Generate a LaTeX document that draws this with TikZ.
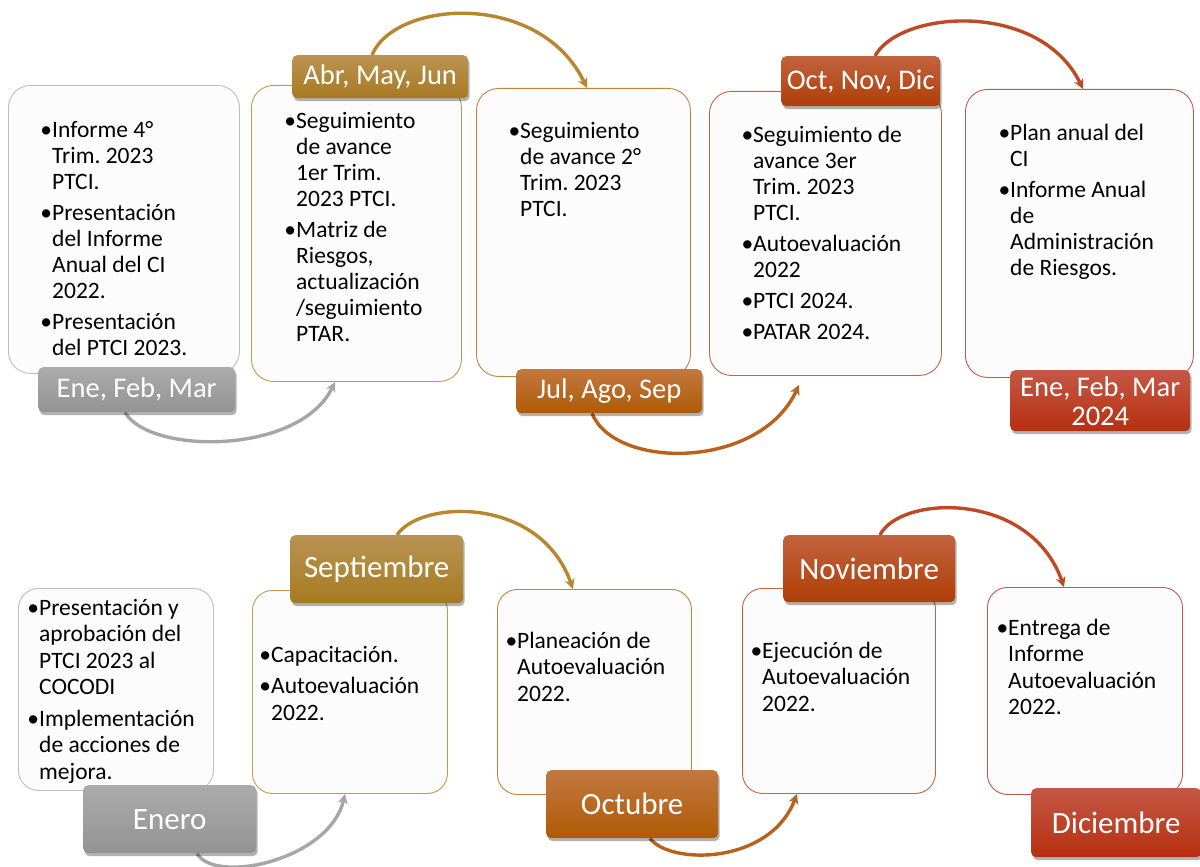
\documentclass[tikz,border=0pt]{standalone}
\usepackage{fontspec}
\setmainfont{Carlito}
\frenchspacing
\usetikzlibrary{arrows.meta,shadows,calc}
\pgfdeclarelayer{bg}\pgfdeclarelayer{mid}\pgfsetlayers{bg,mid,main}
\definecolor{grayT}{HTML}{ABABAB}\definecolor{grayB}{HTML}{939393}\definecolor{grayE}{HTML}{BDBDBD}\definecolor{grayA}{HTML}{A6A6A6}
\definecolor{goldT}{HTML}{BA9353}\definecolor{goldB}{HTML}{A67A20}\definecolor{goldE}{HTML}{C4994C}\definecolor{goldA}{HTML}{B8862E}
\definecolor{oraT}{HTML}{C2783F}\definecolor{oraB}{HTML}{AF5A06}\definecolor{oraE}{HTML}{C8803F}\definecolor{oraA}{HTML}{B8621E}
\definecolor{rusT}{HTML}{C2633F}\definecolor{rusB}{HTML}{AF3E06}\definecolor{rusE}{HTML}{C2653F}\definecolor{rusA}{HTML}{BC4A24}
\definecolor{redT}{HTML}{C45845}\definecolor{redB}{HTML}{B72F10}\definecolor{redE}{HTML}{C4574A}
\newcommand{\itm}{\llap{\textbullet}}
\tikzset{
  card/.style={draw=#1, line width=0.9pt, fill=white!99!black, rounded corners=22pt, anchor=north west, inner sep=0pt},
  txt/.style={anchor=north west, inner sep=0pt, align=left, yshift=18.3pt, text=black},
  toptxt/.style={txt, font=\fontsize{23.5}{26}\selectfont},
  bottxt/.style={txt, font=\fontsize{23.5}{26.5}\selectfont},
  lab/.style={rounded corners=5pt, text=white, anchor=north west, inner sep=0pt, align=center,
     drop shadow={shadow xshift=1.5pt, shadow yshift=-3pt, opacity=0.3, fill=black}},
  labgray/.style={lab, top color=grayT, bottom color=grayB},
  labgold/.style={lab, top color=goldT, bottom color=goldB},
  labora/.style={lab, top color=oraT, bottom color=oraB},
  labrus/.style={lab, top color=rusT, bottom color=rusB},
  labred/.style={lab, top color=redT, bottom color=redB},
  toplab/.style={font=\fontsize{28.5}{29}\selectfont},
  botlab/.style={font=\fontsize{31}{34}\selectfont},
  arc/.style={line width=3.4pt, draw=#1, -{Stealth[length=10pt,width=10pt]}}
}
\begin{document}
\begin{tikzpicture}[x=1pt,y=-1pt]
\useasboundingbox (0,0) rectangle (1200,867);
\begin{pgfonlayer}{bg}
% top row boxes
\node[card=grayE, minimum width=231pt, minimum height=288pt] (b1) at (8,85) {};
\node[card=goldE, minimum width=210pt, minimum height=296pt] (b2) at (251,85) {};
\node[card=oraE, minimum width=214pt, minimum height=288pt] (b3) at (476,88) {};
\node[card=rusE, minimum width=232pt, minimum height=284pt] (b4) at (709,91) {};
\node[card=redE, minimum width=228pt, minimum height=288pt] (b5) at (965,89) {};
% bottom row boxes
\node[card=grayE, rounded corners=20pt, minimum width=195pt, minimum height=202pt] (c1) at (18,588) {};
\node[card=goldE, rounded corners=20pt, minimum width=195pt, minimum height=203pt] (c2) at (252,590) {};
\node[card=oraE, rounded corners=20pt, minimum width=194pt, minimum height=205pt] (c3) at (497,589) {};
\node[card=rusE, rounded corners=20pt, minimum width=193pt, minimum height=205pt] (c4) at (742,588) {};
\node[card=redE, rounded corners=20pt, minimum width=195pt, minimum height=207pt] (c5) at (987,587) {};
% texts
\node[toptxt] (t1) at (52,137) {\strut\itm Informe 4°\\ Trim. 2023\\ PTCI.\\[5pt] \itm Presentación\\ del Informe\\ Anual del CI\\ 2022.\\[5pt] \itm Presentación\\ del PTCI 2023.};
\node[toptxt] (t2) at (296,128) {\strut\itm Seguimiento\\ de avance\\ 1er Trim.\\ 2023 PTCI.\\[5pt] \itm Matriz de\\ Riesgos,\\ actualización\\ /seguimiento\\ PTAR.};
\node[toptxt] (t3) at (520,138) {\strut\itm Seguimiento\\ de avance 2°\\ Trim. 2023\\ PTCI.};
\node[toptxt] (t4) at (753,142) {\strut\itm Seguimiento de\\ avance 3er\\ Trim. 2023\\ PTCI.\\[5pt] \itm Autoevaluación\\ 2022\\[5pt] \itm PTCI 2024.\\[5pt] \itm PATAR 2024.};
\node[toptxt] (t5) at (1010,140) {\strut\itm Plan anual del\\ CI\\[5pt] \itm Informe Anual\\ de\\ Administración\\ de Riesgos.};
\node[bottxt] (u1) at (39,615) {\strut\itm Presentación y\\ aprobación del\\ PTCI 2023 al\\ COCODI\\[5pt] \itm Implementación\\ de acciones de\\ mejora.};
\node[bottxt] (u2) at (271,662) {\strut\itm Capacitación.\\[5pt] \itm Autoevaluación\\ 2022.};
\node[bottxt] (u3) at (517,648) {\strut\itm Planeación de\\ Autoevaluación\\ 2022.};
\node[bottxt] (u4) at (762,658) {\strut\itm Ejecución de\\ Autoevaluación\\ 2022.};
\node[bottxt] (u5) at (1008,635) {\strut\itm Entrega de\\ Informe\\ Autoevaluación\\ 2022.};
\end{pgfonlayer}
% labels
\node[labgray, toplab, minimum width=197pt, minimum height=45pt] (l1) at (38,367) {Ene, Feb, Mar};
\node[labgold, toplab, minimum width=176pt, minimum height=43pt] (l2) at (292,55) {Abr, May, Jun};
\node[labora, toplab, minimum width=186pt, minimum height=44pt] (l3) at (516,369) {Jul, Ago, Sep};
\node[labrus, toplab, minimum width=159pt, minimum height=50pt] (l4) at (781,56) {Oct, Nov, Dic};
\node[labred, toplab, minimum width=180pt, minimum height=61pt] (l5) at (1010,370) {Ene, Feb, Mar\\2024};
\node[labgray, botlab, minimum width=173pt, minimum height=68pt] (m1) at (83,785) {Enero};
\node[labgold, botlab, minimum width=173pt, minimum height=68pt] (m2) at (290,535) {Septiembre};
\node[labora, botlab, minimum width=172pt, minimum height=68pt] (m3) at (546,770) {Octubre};
\node[labrus, botlab, minimum width=172pt, minimum height=67pt] (m4) at (783,535) {Noviembre};
\node[labred, botlab, minimum width=170pt, minimum height=69pt] (m5) at (1031,788) {Diciembre};
% arcs
\begin{pgfonlayer}{mid}
\draw[arc=grayA] ($(l1.south west)+(87,0)$) .. controls (150,455) and (300,455) .. ($(b2.south west)+(84,0)$);
\draw[arc=goldA] ($(l2.north west)+(80,0)$) .. controls (395,0) and (540,-10) .. ($(b3.north west)+(111,0)$);
\draw[arc=oraA] ($(l3.south west)+(76,0)$) .. controls (615,470) and (760,470) .. ($(b4.south west)+(90,9)$);
\draw[arc=rusA] ($(l4.north west)+(94,0)$) .. controls (900,10) and (1040,0) .. ($(b5.north west)+(118,0)$);
\draw[arc=grayA] ($(m1.south west)+(114,0)$) .. controls (215,885) and (330,860) .. ($(c2.south west)+(93,0)$);
\draw[arc=goldA] ($(m2.north west)+(107,0)$) .. controls (420,500) and (540,495) .. ($(c3.north west)+(76,0)$);
\draw[arc=oraA] ($(m3.south west)+(104,0)$) .. controls (670,865) and (770,865) .. ($(c4.south west)+(55,0)$);
\draw[arc=rusA] ($(m4.north west)+(97,0)$) .. controls (900,495) and (1030,490) .. ($(c5.north west)+(77,0)$);
\end{pgfonlayer}
\end{tikzpicture}
\end{document}
